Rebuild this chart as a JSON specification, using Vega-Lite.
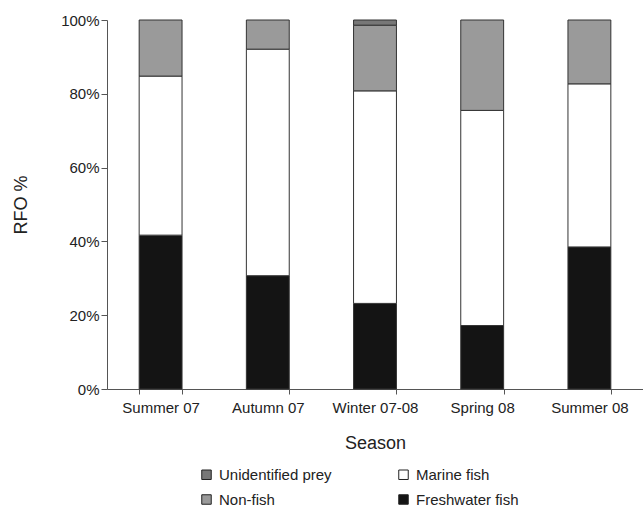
{
  "$schema": "https://vega.github.io/schema/vega-lite/v6.json",
  "width": 536,
  "height": 369,
  "autosize": {"type": "none"},
  "padding": {"left": 107, "top": 20, "right": 0, "bottom": 121},
  "background": "white",
  "config": {
    "view": {"stroke": null},
    "font": "Liberation Sans",
    "axis": {"labelFont": "Liberation Sans", "titleFont": "Liberation Sans", "labelColor": "#222", "titleColor": "#222", "domainColor": "#555", "tickColor": "#555", "grid": false}
  },
  "data": {
    "values": [
      {"Season": "Summer 07", "Prey": "Freshwater fish", "RFO": 41.7},
      {"Season": "Summer 07", "Prey": "Marine fish", "RFO": 43.1},
      {"Season": "Summer 07", "Prey": "Non-fish", "RFO": 15.2},
      {"Season": "Autumn 07", "Prey": "Freshwater fish", "RFO": 30.7},
      {"Season": "Autumn 07", "Prey": "Marine fish", "RFO": 61.4},
      {"Season": "Autumn 07", "Prey": "Non-fish", "RFO": 7.9},
      {"Season": "Winter 07-08", "Prey": "Freshwater fish", "RFO": 23.2},
      {"Season": "Winter 07-08", "Prey": "Marine fish", "RFO": 57.6},
      {"Season": "Winter 07-08", "Prey": "Non-fish", "RFO": 17.8},
      {"Season": "Winter 07-08", "Prey": "Unidentified prey", "RFO": 1.4},
      {"Season": "Spring 08", "Prey": "Freshwater fish", "RFO": 17.2},
      {"Season": "Spring 08", "Prey": "Marine fish", "RFO": 58.3},
      {"Season": "Spring 08", "Prey": "Non-fish", "RFO": 24.5},
      {"Season": "Summer 08", "Prey": "Freshwater fish", "RFO": 38.5},
      {"Season": "Summer 08", "Prey": "Marine fish", "RFO": 44.2},
      {"Season": "Summer 08", "Prey": "Non-fish", "RFO": 17.3}
    ]
  },
  "mark": {"type": "bar", "stroke": "#333", "strokeWidth": 1},
  "encoding": {
    "x": {
      "field": "Season",
      "type": "nominal",
      "sort": ["Summer 07", "Autumn 07", "Winter 07-08", "Spring 08", "Summer 08"],
      "scale": {"paddingInner": 0.6, "paddingOuter": 0.3},
      "axis": {"title": "Season", "labelAngle": 0, "labelFontSize": 15, "titleFontSize": 18, "titleFontWeight": "normal", "tickBand": "extent", "tickSize": 5, "labelPadding": 6, "titlePadding": 19}
    },
    "y": {
      "field": "RFO",
      "type": "quantitative",
      "stack": "normalize",
      "scale": {"domain": [0, 1]},
      "axis": {"title": "RFO %", "format": ".0%", "values": [0, 0.2, 0.4, 0.6, 0.8, 1], "labelFontSize": 15, "titleFontSize": 18, "titleFontWeight": "normal", "tickSize": 6, "titlePadding": 30}
    },
    "fill": {
      "field": "Prey",
      "type": "nominal",
      "scale": {"domain": ["Unidentified prey", "Marine fish", "Non-fish", "Freshwater fish"], "range": ["#777777", "#ffffff", "#9a9a9a", "#141414"]},
      "legend": {"title": null, "orient": "none", "legendX": 92, "legendY": 447, "columns": 2, "direction": "horizontal", "symbolType": "square", "symbolSize": 90, "symbolStrokeColor": "#222", "symbolStrokeWidth": 1, "labelFontSize": 15, "labelColor": "#222", "labelFont": "Liberation Sans", "columnPadding": 64, "rowPadding": 9, "labelOffset": 5}
    },
    "order": {"field": "Prey", "sort": "ascending"}
  }
}
